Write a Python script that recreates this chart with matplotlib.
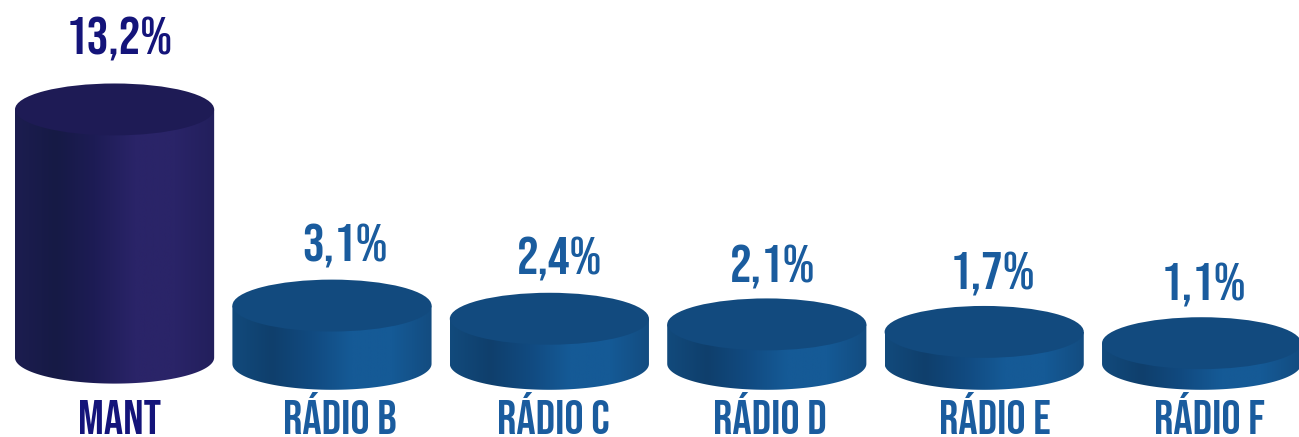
import numpy as np
import matplotlib
matplotlib.use('Agg')
import matplotlib.pyplot as plt
from matplotlib.colors import LinearSegmentedColormap
from matplotlib.patches import Ellipse, PathPatch
from matplotlib.path import Path

labels = ['MANT', 'RÁDIO B', 'RÁDIO C', 'RÁDIO D', 'RÁDIO E', 'RÁDIO F']
values = [13.2, 3.1, 2.4, 2.1, 1.7, 1.1]
value_labels = ['13,2%', '3,1%', '2,4%', '2,1%', '1,7%', '1,1%']

plt.rcParams['font.family'] = ['Bebas Neue', 'Barlow Condensed', 'Liberation Sans', 'DejaVu Sans']

# one unit on the y axis is 18.8 px, one bar step 217.4 px
y_limits = (-3.89, 19.35)
x_limits = (-0.527, 5.448)

# the labels in the original are placed by hand, not quite centred
value_dx = [0.02, 0.06, 0.047, 0.025, 0.04, 0.01]
value_dy = [3.75, 3.15, 3.2, 3.05, 3.1, 3.1]
label_dx = [0.023, 0.035, 0.016, 0.016, 0.05, 0.035]

fig = plt.figure(figsize=(12.99, 4.37), dpi=100)
ax = fig.add_axes([0, 0, 1, 1])
ax.axis('off')

radius = 0.458
squash = 1.38  # half height of the ellipses, in y units

dark_cmap = LinearSegmentedColormap.from_list(
    'mant', ['#1c1d50', '#161a45', '#1d1c55', '#2a2468', '#2a2468', '#221f5c'])
blue_cmap = LinearSegmentedColormap.from_list(
    'radio', ['#124a7c', '#0f3f6c', '#114a80', '#155a96', '#155a96', '#134c80'])
gradient = np.linspace(0, 1, 256).reshape(1, -1)

for i, v in enumerate(values):
    first = i == 0
    base = 0.33 if first else 0
    top = base + v
    cmap = dark_cmap if first else blue_cmap
    top_color = '#1e1b55' if first else '#124a7e'
    text_color = '#14147a' if first else '#1a5c9e'

    # side of the cylinder, shaded left to right
    t = np.linspace(np.pi, 2 * np.pi, 80)
    xs = i + radius * np.cos(t)
    ys = base + squash * np.sin(t)
    verts = np.vstack([np.column_stack([xs, ys]),
                       [[i + radius, top], [i - radius, top], [xs[0], ys[0]]]])
    body = PathPatch(Path(verts), facecolor='none', edgecolor='none')
    ax.add_patch(body)
    img = ax.imshow(gradient, cmap=cmap, aspect='auto', zorder=2,
                    extent=[i - radius, i + radius, base - squash, top])
    img.set_clip_path(body)

    ax.add_patch(Ellipse((i, top), 2 * radius, 2 * squash, facecolor=top_color,
                         edgecolor='none', zorder=3))

    ax.text(i + value_dx[i], top + value_dy[i], value_labels[i],
            ha='center', va='center', fontsize=39, fontweight='bold', color=text_color)
    ax.text(i + label_dx[i], -3.72, labels[i], ha='center', va='baseline',
            fontsize=34.5, fontweight='bold', color=text_color)

# imshow resets the limits
ax.set_xlim(*x_limits)
ax.set_ylim(*y_limits)

fig.savefig('out.png', dpi=100)
